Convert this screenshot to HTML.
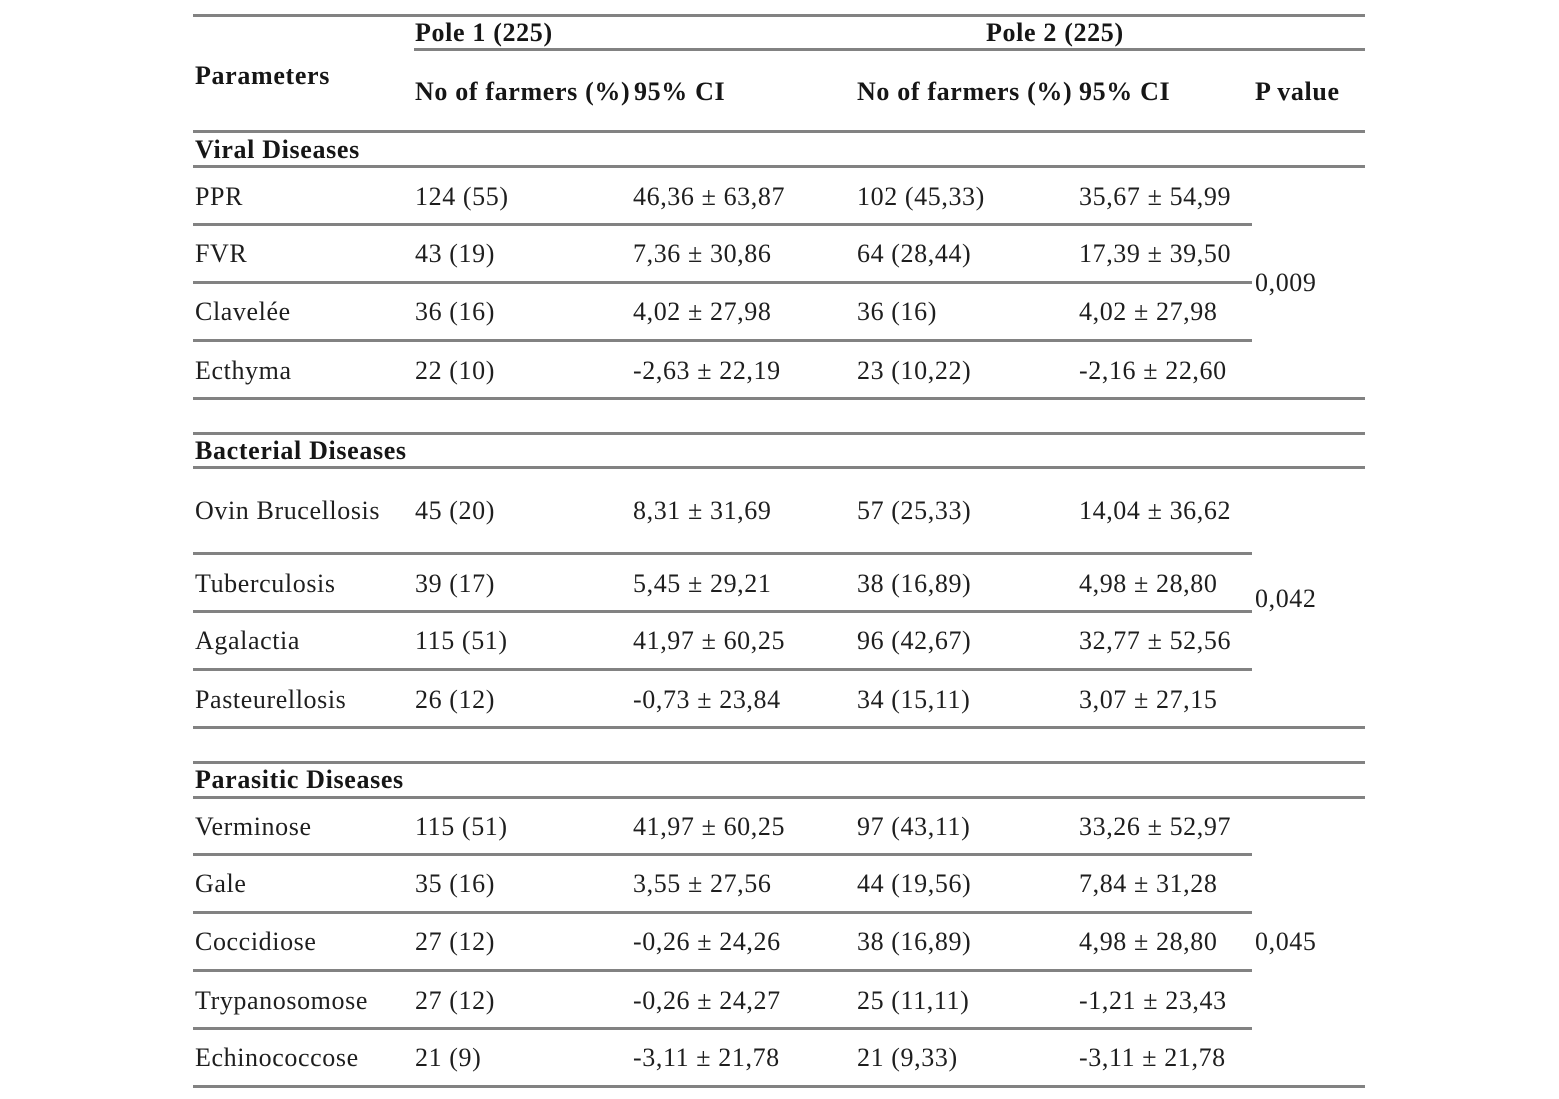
<!DOCTYPE html>
<html>
<head>
<meta charset="utf-8">
<style>
html,body{margin:0;padding:0;background:#fff;}
body{width:1559px;height:1099px;position:relative;overflow:hidden;font-family:"Liberation Serif","Times New Roman",serif;color:#1e1e1e;}
.l{position:absolute;height:3px;background:#828282;}
.f{left:193px;width:1172px;}
.s{left:193px;width:1059px;}
.t{position:absolute;font-size:26px;line-height:30px;height:30px;white-space:nowrap;letter-spacing:0.6px;margin-top:1px;}
.b{font-weight:bold;color:#161616;letter-spacing:0.65px;}
</style>
</head>
<body>
<!-- lines -->
<div class="l f" style="top:14px"></div>
<div class="l" style="top:48px;left:414px;width:951px"></div>
<div class="l f" style="top:130px"></div>
<div class="l f" style="top:165px"></div>
<div class="l s" style="top:223px"></div>
<div class="l s" style="top:281px"></div>
<div class="l s" style="top:339px"></div>
<div class="l f" style="top:397px"></div>
<div class="l f" style="top:432px"></div>
<div class="l f" style="top:466px"></div>
<div class="l s" style="top:552px"></div>
<div class="l s" style="top:610px"></div>
<div class="l s" style="top:668px"></div>
<div class="l f" style="top:726px"></div>
<div class="l f" style="top:761px"></div>
<div class="l f" style="top:796px"></div>
<div class="l s" style="top:853px"></div>
<div class="l s" style="top:911px"></div>
<div class="l s" style="top:969px"></div>
<div class="l s" style="top:1027px"></div>
<div class="l f" style="top:1085px"></div>

<!-- header -->
<div class="t b" style="left:415px;top:17px">Pole 1 (225)</div>
<div class="t b" style="left:986px;top:17px">Pole 2 (225)</div>
<div class="t b" style="left:195px;top:60px">Parameters</div>
<div class="t b" style="left:415px;top:76px">No of farmers (%)</div>
<div class="t b" style="left:634px;top:76px">95% CI</div>
<div class="t b" style="left:857px;top:76px">No of farmers (%)</div>
<div class="t b" style="left:1079px;top:76px">95% CI</div>
<div class="t b" style="left:1255px;top:76px">P value</div>

<!-- Viral -->
<div class="t b" style="left:195px;top:134px">Viral Diseases</div>

<div class="t" style="left:195px;top:181px">PPR</div>
<div class="t" style="left:415px;top:181px">124 (55)</div>
<div class="t" style="left:633px;top:181px">46,36 ± 63,87</div>
<div class="t" style="left:857px;top:181px">102 (45,33)</div>
<div class="t" style="left:1079px;top:181px">35,67 ± 54,99</div>

<div class="t" style="left:195px;top:238px">FVR</div>
<div class="t" style="left:415px;top:238px">43 (19)</div>
<div class="t" style="left:633px;top:238px">7,36 ± 30,86</div>
<div class="t" style="left:857px;top:238px">64 (28,44)</div>
<div class="t" style="left:1079px;top:238px">17,39 ± 39,50</div>

<div class="t" style="left:1255px;top:267px">0,009</div>

<div class="t" style="left:195px;top:296px">Clavelée</div>
<div class="t" style="left:415px;top:296px">36 (16)</div>
<div class="t" style="left:633px;top:296px">4,02 ± 27,98</div>
<div class="t" style="left:857px;top:296px">36 (16)</div>
<div class="t" style="left:1079px;top:296px">4,02 ± 27,98</div>

<div class="t" style="left:195px;top:355px">Ecthyma</div>
<div class="t" style="left:415px;top:355px">22 (10)</div>
<div class="t" style="left:633px;top:355px">-2,63 ± 22,19</div>
<div class="t" style="left:857px;top:355px">23 (10,22)</div>
<div class="t" style="left:1079px;top:355px">-2,16 ± 22,60</div>

<!-- Bacterial -->
<div class="t b" style="left:195px;top:435px">Bacterial Diseases</div>

<div class="t" style="left:195px;top:495px">Ovin Brucellosis</div>
<div class="t" style="left:415px;top:495px">45 (20)</div>
<div class="t" style="left:633px;top:495px">8,31 ± 31,69</div>
<div class="t" style="left:857px;top:495px">57 (25,33)</div>
<div class="t" style="left:1079px;top:495px">14,04 ± 36,62</div>

<div class="t" style="left:195px;top:568px">Tuberculosis</div>
<div class="t" style="left:415px;top:568px">39 (17)</div>
<div class="t" style="left:633px;top:568px">5,45 ± 29,21</div>
<div class="t" style="left:857px;top:568px">38 (16,89)</div>
<div class="t" style="left:1079px;top:568px">4,98 ± 28,80</div>

<div class="t" style="left:1255px;top:583px">0,042</div>

<div class="t" style="left:195px;top:625px">Agalactia</div>
<div class="t" style="left:415px;top:625px">115 (51)</div>
<div class="t" style="left:633px;top:625px">41,97 ± 60,25</div>
<div class="t" style="left:857px;top:625px">96 (42,67)</div>
<div class="t" style="left:1079px;top:625px">32,77 ± 52,56</div>

<div class="t" style="left:195px;top:684px">Pasteurellosis</div>
<div class="t" style="left:415px;top:684px">26 (12)</div>
<div class="t" style="left:633px;top:684px">-0,73 ± 23,84</div>
<div class="t" style="left:857px;top:684px">34 (15,11)</div>
<div class="t" style="left:1079px;top:684px">3,07 ± 27,15</div>

<!-- Parasitic -->
<div class="t b" style="left:195px;top:764px">Parasitic Diseases</div>

<div class="t" style="left:195px;top:811px">Verminose</div>
<div class="t" style="left:415px;top:811px">115 (51)</div>
<div class="t" style="left:633px;top:811px">41,97 ± 60,25</div>
<div class="t" style="left:857px;top:811px">97 (43,11)</div>
<div class="t" style="left:1079px;top:811px">33,26 ± 52,97</div>

<div class="t" style="left:195px;top:868px">Gale</div>
<div class="t" style="left:415px;top:868px">35 (16)</div>
<div class="t" style="left:633px;top:868px">3,55 ± 27,56</div>
<div class="t" style="left:857px;top:868px">44 (19,56)</div>
<div class="t" style="left:1079px;top:868px">7,84 ± 31,28</div>

<div class="t" style="left:195px;top:926px">Coccidiose</div>
<div class="t" style="left:415px;top:926px">27 (12)</div>
<div class="t" style="left:633px;top:926px">-0,26 ± 24,26</div>
<div class="t" style="left:857px;top:926px">38 (16,89)</div>
<div class="t" style="left:1079px;top:926px">4,98 ± 28,80</div>
<div class="t" style="left:1255px;top:926px">0,045</div>

<div class="t" style="left:195px;top:985px">Trypanosomose</div>
<div class="t" style="left:415px;top:985px">27 (12)</div>
<div class="t" style="left:633px;top:985px">-0,26 ± 24,27</div>
<div class="t" style="left:857px;top:985px">25 (11,11)</div>
<div class="t" style="left:1079px;top:985px">-1,21 ± 23,43</div>

<div class="t" style="left:195px;top:1042px">Echinococcose</div>
<div class="t" style="left:415px;top:1042px">21 (9)</div>
<div class="t" style="left:633px;top:1042px">-3,11 ± 21,78</div>
<div class="t" style="left:857px;top:1042px">21 (9,33)</div>
<div class="t" style="left:1079px;top:1042px">-3,11 ± 21,78</div>
</body>
</html>
